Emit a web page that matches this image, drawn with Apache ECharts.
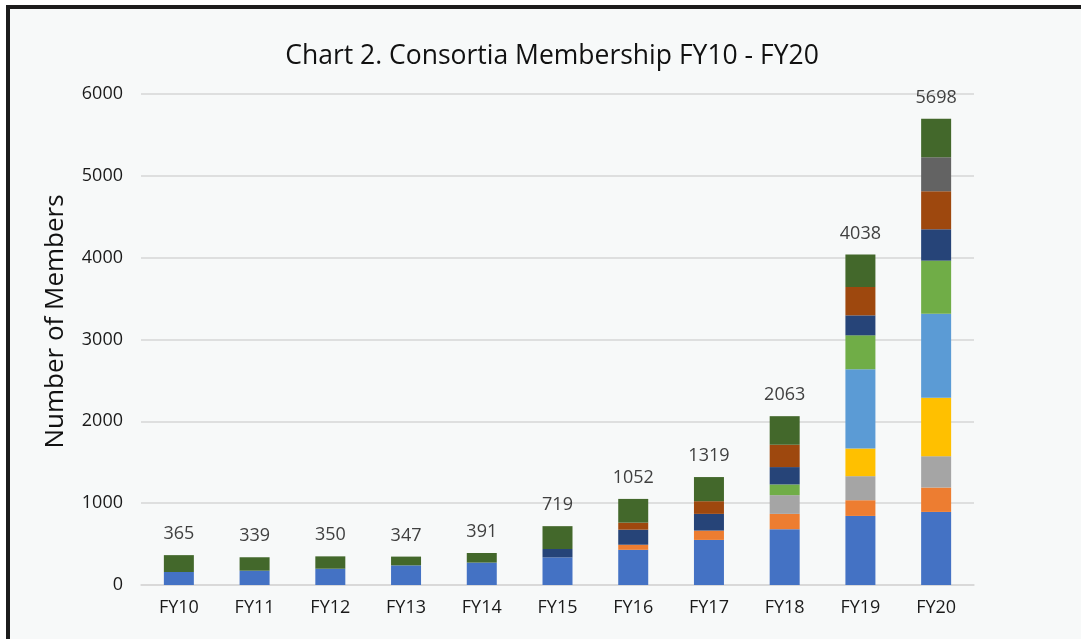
<!DOCTYPE html>
<html>
<head>
<meta charset="utf-8">
<script src="https://cdn.jsdelivr.net/npm/echarts@6/dist/echarts.min.js"></script>
<style>
  html, body { margin: 0; padding: 0; background: #ffffff; overflow: hidden; }
  #frame {
    position: absolute; left: 6px; top: 5px; width: 1100px; height: 660px;
    border-left: 4px solid #1c1c1c; border-top: 4px solid #1c1c1c;
    background: #f7f9f9;
  }
  #main { position: absolute; left: 0; top: 0; width: 1081px; height: 639px; }
</style>
</head>
<body>
<div id="frame"></div>
<div id="main"></div>
<script>
// fiscal years
var years = ['FY10', 'FY11', 'FY12', 'FY13', 'FY14', 'FY15', 'FY16', 'FY17', 'FY18', 'FY19', 'FY20'];
// member counts per segment, bottom to top of the stack
var seg1  = [159, 175, 199, 240, 274, 337, 430, 551, 682, 844, 893];
var seg2  = [0, 0, 0, 0, 0, 0, 62, 114, 187, 192, 298];
var seg3  = [0, 0, 0, 0, 0, 0, 0, 0, 229, 294, 383];
var seg4  = [0, 0, 0, 0, 0, 0, 0, 0, 0, 338, 714];
var seg5  = [0, 0, 0, 0, 0, 0, 0, 0, 0, 967, 1028];
var seg6  = [0, 0, 0, 0, 0, 0, 0, 0, 131, 416, 648];
var seg7  = [0, 0, 0, 0, 0, 103, 184, 204, 212, 244, 383];
var seg8  = [0, 0, 0, 0, 0, 0, 86, 155, 273, 347, 465];
var seg9  = [0, 0, 0, 0, 0, 0, 0, 0, 0, 0, 416];
var seg10 = [206, 164, 151, 107, 117, 279, 290, 295, 349, 396, 470];
// totals printed above each bar
var totals = [365, 339, 350, 347, 391, 719, 1052, 1319, 2063, 4038, 5698];

var segments = [seg1, seg2, seg3, seg4, seg5, seg6, seg7, seg8, seg9, seg10];
var colors = ['#4472C4', '#ED7D31', '#A5A5A5', '#FFC000', '#5B9BD5',
              '#70AD47', '#264478', '#9E480E', '#636363', '#43682B'];

var font = '"Open Sans", "Noto Sans", sans-serif';

var series = segments.map(function (d, i) {
    var s = {
        name: 'Segment ' + (i + 1),
        type: 'bar',
        stack: 'members',
        barWidth: 30,
        data: d,
        itemStyle: { color: colors[i] }
    };
    if (i === segments.length - 1) {
        s.label = {
            show: true,
            position: 'top',
            distance: 12,
            fontFamily: font,
            fontSize: 18,
            color: '#404040',
            formatter: function (p) { return totals[p.dataIndex]; }
        };
    }
    return s;
});

var chart = echarts.init(document.getElementById('main'));
chart.setOption({
    animation: false,
    backgroundColor: 'transparent',
    title: {
        text: 'Chart 2. Consortia Membership FY10 - FY20',
        left: 547,
        top: 38,
        textAlign: 'center',
        textStyle: { fontFamily: font, fontSize: 26.5, fontWeight: 'normal', color: '#111111' }
    },
    grid: { left: 141, right: 107, top: 94, bottom: 54 },
    xAxis: {
        type: 'category',
        data: years,
        axisLine: { lineStyle: { color: '#d6d6d6', width: 1.5 } },
        axisTick: { show: false },
        axisLabel: { fontFamily: font, fontSize: 18, color: '#1a1a1a', margin: 14 }
    },
    yAxis: {
        type: 'value',
        min: 0,
        max: 6000,
        interval: 1000,
        name: 'Number of Members',
        nameLocation: 'middle',
        nameGap: 72,
        nameTextStyle: { fontFamily: font, fontSize: 26, color: '#111111', padding: [0, 0, 0, 36] },
        axisLine: { show: false },
        axisTick: { show: false },
        axisLabel: {
            fontFamily: font, fontSize: 18, color: '#1a1a1a', margin: 18,
            formatter: function (v) { return String(v); }
        },
        splitLine: { lineStyle: { color: '#d6d6d6', width: 1.5 } }
    },
    series: series
});
</script>
</body>
</html>
